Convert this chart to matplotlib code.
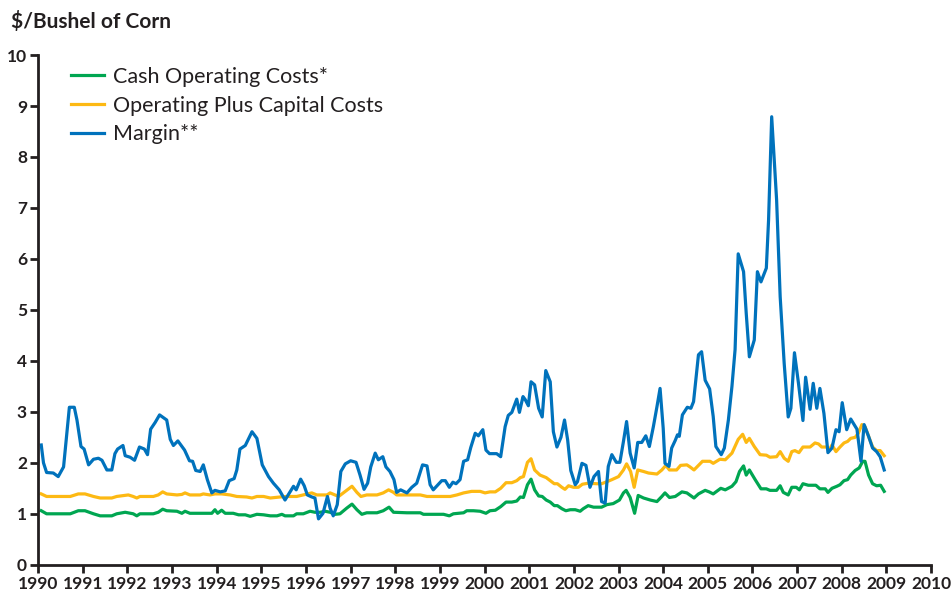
import numpy as np
import matplotlib.pyplot as plt

### DATA (decimal years)
marginYears = [1990.07, 1990.12, 1990.19, 1990.34, 1990.45, 1990.57, 1990.70, 1990.81, 1990.87, 1990.96,
               1991.03, 1991.13, 1991.24, 1991.35, 1991.43, 1991.54, 1991.65, 1991.72, 1991.78, 1991.90,
               1991.95, 1992.06, 1992.16, 1992.27, 1992.38, 1992.45, 1992.52, 1992.62, 1992.72, 1992.88,
               1992.96, 1993.03, 1993.13, 1993.28, 1993.39, 1993.46, 1993.53, 1993.63, 1993.70, 1993.79,
               1993.89, 1993.96, 1994.08, 1994.19, 1994.28, 1994.39, 1994.45, 1994.52, 1994.64, 1994.79,
               1994.90, 1995.02, 1995.16, 1995.27, 1995.40, 1995.53, 1995.63, 1995.72, 1995.78, 1995.88,
               1995.96, 1996.03, 1996.13, 1996.20, 1996.28, 1996.38, 1996.48, 1996.54, 1996.61, 1996.70,
               1996.78, 1996.88, 1997.00, 1997.12, 1997.21, 1997.30, 1997.38, 1997.45, 1997.55, 1997.62,
               1997.72, 1997.79, 1997.88, 1997.97, 1998.03, 1998.12, 1998.26, 1998.37, 1998.48, 1998.61,
               1998.71, 1998.78, 1998.85, 1999.04, 1999.12, 1999.21, 1999.29, 1999.36, 1999.45, 1999.53,
               1999.62, 1999.69, 1999.79, 1999.86, 1999.96, 2000.03, 2000.11, 2000.27, 2000.36, 2000.46,
               2000.53, 2000.61, 2000.72, 2000.78, 2000.86, 2000.91, 2000.98, 2001.04, 2001.12, 2001.21,
               2001.29, 2001.37, 2001.47, 2001.54, 2001.62, 2001.71, 2001.79, 2001.86, 2001.93, 2002.03,
               2002.08, 2002.18, 2002.27, 2002.36, 2002.45, 2002.55, 2002.62, 2002.70, 2002.77, 2002.85,
               2002.95, 2003.03, 2003.11, 2003.18, 2003.26, 2003.35, 2003.43, 2003.52, 2003.61, 2003.69,
               2003.78, 2003.86, 2003.93, 2004.00, 2004.04, 2004.13, 2004.19, 2004.27, 2004.32, 2004.36,
               2004.43, 2004.54, 2004.62, 2004.68, 2004.79, 2004.86, 2004.94, 2005.04, 2005.12, 2005.18,
               2005.30, 2005.37, 2005.46, 2005.54, 2005.61, 2005.68, 2005.80, 2005.86, 2005.93, 2006.04,
               2006.11, 2006.19, 2006.31, 2006.36, 2006.43, 2006.54, 2006.62, 2006.71, 2006.80, 2006.86,
               2006.94, 2007.03, 2007.13, 2007.19, 2007.29, 2007.36, 2007.44, 2007.51, 2007.60, 2007.69,
               2007.78, 2007.87, 2007.94, 2008.01, 2008.11, 2008.20, 2008.34, 2008.43, 2008.50, 2008.60,
               2008.69, 2008.78, 2008.86, 2008.95]
margin = [2.35, 2.00, 1.81, 1.80, 1.73, 1.92, 3.09, 3.09, 2.84, 2.32,
          2.27, 1.96, 2.07, 2.09, 2.05, 1.86, 1.86, 2.18, 2.27, 2.34,
          2.14, 2.11, 2.05, 2.31, 2.27, 2.16, 2.66, 2.79, 2.94, 2.84,
          2.46, 2.34, 2.43, 2.25, 2.04, 2.03, 1.85, 1.83, 1.96, 1.67,
          1.41, 1.46, 1.43, 1.45, 1.65, 1.69, 1.86, 2.27, 2.34, 2.61,
          2.48, 1.96, 1.73, 1.60, 1.47, 1.27, 1.41, 1.54, 1.47, 1.68,
          1.55, 1.37, 1.33, 1.31, 0.90, 1.01, 1.34, 1.11, 0.96, 1.18,
          1.83, 1.98, 2.04, 2.01, 1.76, 1.48, 1.60, 1.92, 2.19, 2.06,
          2.12, 1.92, 1.83, 1.67, 1.42, 1.47, 1.41, 1.52, 1.60, 1.96,
          1.94, 1.57, 1.47, 1.65, 1.65, 1.52, 1.62, 1.59, 1.67, 2.03,
          2.06, 2.30, 2.58, 2.53, 2.65, 2.25, 2.18, 2.18, 2.12, 2.71,
          2.93, 2.99, 3.25, 2.99, 3.30, 3.24, 3.12, 3.59, 3.53, 3.07,
          2.90, 3.81, 3.59, 2.61, 2.31, 2.50, 2.84, 2.45, 1.85, 1.57,
          1.63, 1.99, 1.95, 1.52, 1.73, 1.83, 1.24, 1.21, 1.93, 2.16,
          2.01, 2.01, 2.42, 2.81, 2.19, 1.90, 2.40, 2.40, 2.53, 2.32,
          2.71, 3.10, 3.46, 2.68, 1.99, 1.93, 2.29, 2.44, 2.55, 2.52,
          2.94, 3.09, 3.07, 3.20, 4.12, 4.18, 3.62, 3.45, 2.91, 2.32,
          2.16, 2.29, 2.84, 3.50, 4.22, 6.10, 5.75, 4.93, 4.08, 4.41,
          5.75, 5.55, 5.82, 6.76, 8.79, 7.16, 5.26, 3.95, 2.90, 3.07,
          4.16, 3.56, 2.83, 3.68, 3.05, 3.56, 3.07, 3.46, 2.97, 2.20,
          2.29, 2.65, 2.61, 3.18, 2.65, 2.86, 2.66, 2.03, 2.75, 2.52,
          2.29, 2.22, 2.12, 1.86]

totalYears = [1990.07, 1990.19, 1990.72, 1990.90, 1991.05, 1991.24, 1991.39, 1991.65, 1991.76, 1992.02,
              1992.13, 1992.21, 1992.28, 1992.58, 1992.69, 1992.79, 1992.88, 1993.11, 1993.22, 1993.29,
              1993.40, 1993.63, 1993.70, 1993.85, 1993.96, 1994.11, 1994.30, 1994.45, 1994.67, 1994.79,
              1994.90, 1995.05, 1995.20, 1995.42, 1995.57, 1995.79, 1995.94, 1996.13, 1996.24, 1996.47,
              1996.54, 1996.73, 1996.88, 1997.03, 1997.14, 1997.23, 1997.36, 1997.59, 1997.73, 1997.85,
              1997.96, 1998.03, 1998.33, 1998.56, 1998.71, 1999.23, 1999.38, 1999.53, 1999.71, 1999.90,
              2000.01, 2000.12, 2000.24, 2000.36, 2000.48, 2000.61, 2000.72, 2000.80, 2000.87, 2000.96,
              2001.04, 2001.12, 2001.24, 2001.38, 2001.47, 2001.56, 2001.63, 2001.73, 2001.80, 2001.88,
              2001.99, 2002.10, 2002.19, 2002.32, 2002.51, 2002.62, 2002.74, 2002.85, 2003.00, 2003.11,
              2003.18, 2003.27, 2003.35, 2003.43, 2003.56, 2003.67, 2003.86, 2003.97, 2004.06, 2004.14,
              2004.30, 2004.39, 2004.53, 2004.60, 2004.69, 2004.79, 2004.88, 2005.05, 2005.12, 2005.27,
              2005.39, 2005.54, 2005.68, 2005.78, 2005.86, 2005.93, 2006.04, 2006.17, 2006.31, 2006.39,
              2006.54, 2006.62, 2006.71, 2006.80, 2006.88, 2006.95, 2007.04, 2007.13, 2007.29, 2007.40,
              2007.48, 2007.55, 2007.66, 2007.72, 2007.78, 2007.87, 2007.96, 2008.05, 2008.13, 2008.20,
              2008.30, 2008.37, 2008.45, 2008.52, 2008.60, 2008.69, 2008.78, 2008.86, 2008.95]
totalCost = [1.39, 1.34, 1.34, 1.39, 1.39, 1.34, 1.31, 1.31, 1.34, 1.37,
             1.34, 1.31, 1.34, 1.34, 1.37, 1.43, 1.39, 1.37, 1.38, 1.41,
             1.37, 1.37, 1.39, 1.37, 1.39, 1.39, 1.37, 1.34, 1.33, 1.31,
             1.34, 1.34, 1.31, 1.33, 1.34, 1.34, 1.37, 1.41, 1.37, 1.37,
             1.41, 1.34, 1.44, 1.54, 1.42, 1.34, 1.37, 1.37, 1.41, 1.47,
             1.42, 1.37, 1.37, 1.37, 1.34, 1.34, 1.37, 1.41, 1.44, 1.44,
             1.41, 1.43, 1.43, 1.50, 1.61, 1.61, 1.65, 1.71, 1.73, 2.01,
             2.08, 1.86, 1.76, 1.71, 1.65, 1.59, 1.59, 1.52, 1.48, 1.55,
             1.52, 1.52, 1.58, 1.60, 1.59, 1.59, 1.63, 1.67, 1.73, 1.86,
             1.98, 1.83, 1.52, 1.86, 1.83, 1.80, 1.78, 1.86, 1.95, 1.86,
             1.86, 1.95, 1.96, 1.92, 1.86, 1.95, 2.03, 2.03, 1.99, 2.07,
             2.06, 2.19, 2.46, 2.56, 2.40, 2.48, 2.32, 2.16, 2.15, 2.11,
             2.12, 2.22, 2.09, 2.03, 2.22, 2.24, 2.20, 2.31, 2.31, 2.39,
             2.37, 2.31, 2.31, 2.25, 2.35, 2.22, 2.31, 2.39, 2.42, 2.48,
             2.50, 2.58, 2.75, 2.71, 2.52, 2.31, 2.24, 2.24, 2.14]

cashYears = [1990.07, 1990.19, 1990.72, 1990.90, 1991.05, 1991.24, 1991.39, 1991.65, 1991.76, 1991.95,
             1992.13, 1992.21, 1992.28, 1992.58, 1992.69, 1992.79, 1992.88, 1993.11, 1993.22, 1993.29,
             1993.40, 1993.70, 1993.89, 1993.96, 1994.02, 1994.11, 1994.19, 1994.37, 1994.49, 1994.64,
             1994.75, 1994.90, 1995.05, 1995.20, 1995.35, 1995.46, 1995.53, 1995.72, 1995.79, 1995.94,
             1996.09, 1996.20, 1996.32, 1996.43, 1996.54, 1996.65, 1996.76, 1996.91, 1997.03, 1997.14,
             1997.25, 1997.36, 1997.59, 1997.73, 1997.86, 1997.96, 1998.26, 1998.56, 1998.63, 1999.08,
             1999.21, 1999.30, 1999.53, 1999.60, 1999.75, 1999.90, 2000.03, 2000.12, 2000.24, 2000.36,
             2000.48, 2000.61, 2000.72, 2000.80, 2000.87, 2000.96, 2001.04, 2001.12, 2001.21, 2001.29,
             2001.38, 2001.47, 2001.56, 2001.63, 2001.73, 2001.82, 2001.92, 2002.03, 2002.14, 2002.21,
             2002.32, 2002.44, 2002.62, 2002.74, 2002.88, 2003.02, 2003.11, 2003.17, 2003.26, 2003.36,
             2003.44, 2003.56, 2003.71, 2003.86, 2003.97, 2004.04, 2004.14, 2004.27, 2004.42, 2004.53,
             2004.69, 2004.79, 2004.94, 2005.03, 2005.12, 2005.29, 2005.39, 2005.54, 2005.63, 2005.71,
             2005.80, 2005.86, 2005.93, 2006.06, 2006.19, 2006.31, 2006.39, 2006.54, 2006.62, 2006.69,
             2006.80, 2006.88, 2006.98, 2007.05, 2007.13, 2007.25, 2007.42, 2007.51, 2007.63, 2007.69,
             2007.78, 2007.89, 2007.96, 2008.05, 2008.13, 2008.20, 2008.30, 2008.39, 2008.47, 2008.52,
             2008.60, 2008.69, 2008.78, 2008.87, 2008.95]
cashCost = [1.06, 1.00, 1.00, 1.06, 1.06, 1.00, 0.96, 0.96, 1.00, 1.03,
            1.00, 0.96, 1.00, 1.00, 1.03, 1.09, 1.06, 1.05, 1.01, 1.05,
            1.01, 1.01, 1.01, 1.08, 1.01, 1.07, 1.01, 1.01, 0.98, 0.98,
            0.95, 0.99, 0.98, 0.96, 0.96, 0.99, 0.96, 0.96, 1.00, 1.00,
            1.05, 1.03, 1.03, 1.05, 1.03, 0.99, 1.00, 1.11, 1.19, 1.08,
            0.99, 1.02, 1.02, 1.06, 1.13, 1.03, 1.02, 1.02, 0.99, 0.99,
            0.96, 1.00, 1.02, 1.06, 1.06, 1.05, 1.01, 1.06, 1.07, 1.14,
            1.23, 1.23, 1.25, 1.33, 1.32, 1.57, 1.68, 1.47, 1.35, 1.34,
            1.27, 1.23, 1.16, 1.16, 1.10, 1.06, 1.08, 1.08, 1.05, 1.10,
            1.16, 1.13, 1.13, 1.18, 1.20, 1.27, 1.41, 1.46, 1.32, 1.01,
            1.36, 1.31, 1.27, 1.24, 1.34, 1.41, 1.32, 1.34, 1.43, 1.41,
            1.31, 1.39, 1.46, 1.43, 1.39, 1.50, 1.47, 1.54, 1.63, 1.83,
            1.94, 1.76, 1.86, 1.67, 1.49, 1.49, 1.46, 1.46, 1.55, 1.42,
            1.37, 1.52, 1.52, 1.47, 1.59, 1.56, 1.56, 1.49, 1.49, 1.42,
            1.50, 1.54, 1.57, 1.65, 1.67, 1.76, 1.85, 1.90, 2.03, 2.03,
            1.76, 1.59, 1.55, 1.56, 1.44]

seriesNames = ['Cash Operating Costs*', 'Operating Plus Capital Costs', 'Margin**']
seriesColors = ['#00a651', '#fdb913', '#0072bc']
yearTicks = np.arange(1990, 2011)
valueTicks = np.arange(0, 11)

### PLOT
plt.rcParams['font.family'] = ['Lato', 'DejaVu Sans']
fig = plt.figure(figsize=(9.53, 5.92), dpi=100)
ax = fig.add_axes([0.040, 0.046, 0.937, 0.861])

ax.plot(cashYears, cashCost, c=seriesColors[0], lw=2.3, label=seriesNames[0])
ax.plot(totalYears, totalCost, c=seriesColors[1], lw=2.3, label=seriesNames[1])
ax.plot(marginYears, margin, c=seriesColors[2], lw=2.3, label=seriesNames[2])

ax.set_xlim(1990, 2010)
ax.set_ylim(0, 10)
ax.set_xticks(yearTicks)
ax.set_yticks(valueTicks)
ax.tick_params(axis='both', direction='out', length=6, width=2, color='#231f20',
               labelsize=12.5, labelcolor='#231f20', pad=2)
for lab in ax.get_xticklabels() + ax.get_yticklabels():
    lab.set_fontweight('bold')
for side in ['top', 'right']:
    ax.spines[side].set_visible(False)
for side in ['left', 'bottom']:
    ax.spines[side].set_linewidth(2)
    ax.spines[side].set_color('#231f20')

fig.text(0.012, 0.963, '$/Bushel of Corn', fontsize=15, fontweight='bold',
         color='#231f20', va='center', ha='left')

leg = ax.legend(loc='upper left', bbox_to_anchor=(0.0155, 1.015), frameon=False,
                fontsize=15.5, handlelength=1.5, handletextpad=0.45, labelspacing=0.41)
for t in leg.get_texts():
    t.set_color('#231f20')

fig.savefig('out.png', dpi=100)
